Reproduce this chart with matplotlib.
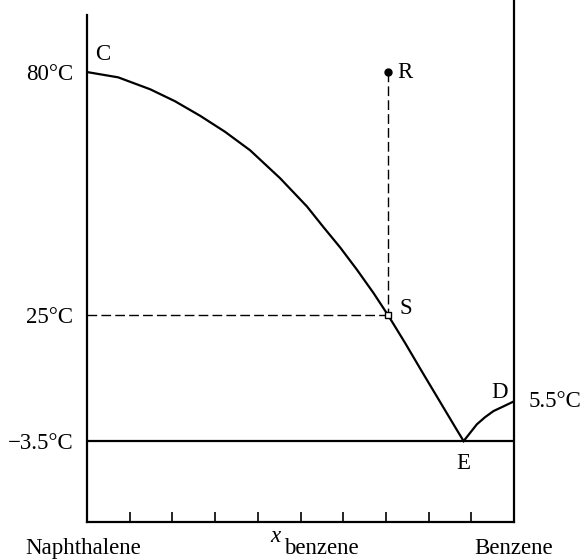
import numpy as np
import matplotlib.pyplot as plt
import matplotlib.transforms as mtransforms

plt.rcParams["font.family"] = ["Liberation Serif", "DejaVu Serif"]

# liquidus of naphthalene (C -> S -> E)
x_naph = [0, 0.073, 0.148, 0.206, 0.265, 0.323, 0.382, 0.452, 0.515, 0.553,
          0.593, 0.632, 0.671, 0.705, 0.745, 0.784, 0.823, 0.862, 0.882]
t_naph = [80, 78.8, 76.1, 73.4, 70.1, 66.5, 62.3, 56.0, 49.6, 45.0,
          40.3, 35.3, 30.0, 25, 18.7, 12.3, 6.0, -0.3, -3.5]

# liquidus of benzene (E -> D)
x_benz = [0.882, 0.913, 0.932, 0.952, 0.974, 1.0]
t_benz = [-3.5, 0.3, 1.9, 3.3, 4.3, 5.5]

x_eutectic, t_eutectic = 0.882, -3.5
x_R, t_R = 0.705, 80
x_S, t_S = 0.705, 25
t_D = 5.5

ytick_vals = [80, 25, -3.5]
ytick_labels = ["80°C", "25°C", "−3.5°C"]
xtick_vals = [0.1, 0.2, 0.3, 0.4, 0.5, 0.6, 0.7, 0.8, 0.9]

FS = 16.5

fig = plt.figure(figsize=(5.85, 5.6), dpi=100)
ax = fig.add_axes([87 / 585, 38 / 560, 427 / 585, 522 / 560])

ax.set_xlim(0, 1)
ax.set_ylim(-21.8, 96.3)

ax.plot(x_naph, t_naph, color="black", lw=1.6, solid_joinstyle="round")
ax.plot(x_benz, t_benz, color="black", lw=1.6, solid_joinstyle="round")
ax.plot([0, 1], [t_eutectic, t_eutectic], color="black", lw=1.6)

# cooling path R -> S and the 25 C guide
ax.plot([x_R, x_S], [t_R, t_S], color="black", lw=1.0, dashes=(7, 3))
ax.plot([0, x_S], [t_S, t_S], color="black", lw=1.0, dashes=(7, 3))
ax.plot(x_R, t_R, "o", color="black", ms=5)
ax.plot(x_S, t_S, "s", mfc="white", mec="black", ms=4, mew=1)

ax.text(0.02, 84, "C", fontsize=FS, ha="left", va="center")
ax.text(x_R + 0.022, t_R, "R", fontsize=FS, ha="left", va="center")
ax.text(x_S + 0.028, t_S + 1.5, "S", fontsize=FS, ha="left", va="center")
ax.text(x_eutectic, t_eutectic - 5, "E", fontsize=FS, ha="center", va="center")
ax.text(0.985, t_D + 1.9, "D", fontsize=FS, ha="right", va="center")
ax.text(1.035, t_D, "5.5°C", fontsize=FS, ha="left", va="center")

# axes styling
ax.spines["top"].set_visible(False)
for side in ["left", "right", "bottom"]:
    ax.spines[side].set_linewidth(1.6)
ax.spines["left"].set_bounds(-21.8, 92.9)

ax.set_yticks(ytick_vals)
ax.set_yticklabels(ytick_labels, fontsize=FS)
ax.tick_params(axis="y", length=0, pad=10)
ax.set_xticks(xtick_vals)
ax.set_xticklabels([])
ax.tick_params(axis="x", direction="in", length=7, width=1.2)

trans = mtransforms.blended_transform_factory(ax.transData, ax.transAxes)
ax.text(-0.01, -0.05, "Naphthalene", fontsize=FS, ha="center", va="center",
        transform=trans)
ax.text(1.0, -0.05, "Benzene", fontsize=FS, ha="center", va="center",
        transform=trans)
ax.text(0.44, -0.027, "x", fontsize=FS, style="italic", ha="center",
        va="center", transform=trans)
ax.text(0.462, -0.05, "benzene", fontsize=FS, ha="left", va="center",
        transform=trans)

fig.savefig("out.png", dpi=100)
